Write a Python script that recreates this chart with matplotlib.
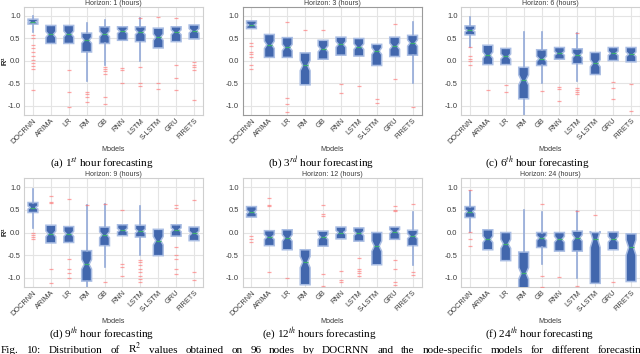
import numpy as np
import matplotlib
matplotlib.use("Agg")
import matplotlib.pyplot as plt

MODELS = ['DOCRNN', 'ARIMA', 'LR', 'RM', 'GB', 'RNN', 'LSTM', 'S-LSTM', 'GRU', 'FIRETS']
HORIZONS = [1, 3, 6, 9, 12, 24]
CAPTIONS = [r"(a) 1$^{st}$ hour forecasting", r"(b) 3$^{rd}$ hour forecasting",
            r"(c) 6$^{th}$ hour forecasting", r"(d) 9$^{th}$ hour forecasting",
            r"(e) 12$^{th}$ hours forecasting", r"(f) 24$^{th}$ hour forecasting"]
FIG_CAPTION = (r"Fig. 10: Distribution of R$^2$ values obtained on 96 nodes by DOCRNN "
               r"and the node-specific models for different forecasting")
N_NODES = 96

# ---- Horizon 1
H1_Q1 = [0.82, 0.39, 0.39, 0.20, 0.39, 0.46, 0.43, 0.29, 0.43, 0.49]
H1_MED = [0.87, 0.59, 0.60, 0.46, 0.60, 0.66, 0.64, 0.53, 0.64, 0.67]
H1_Q3 = [0.93, 0.79, 0.79, 0.62, 0.76, 0.76, 0.76, 0.73, 0.76, 0.80]
H1_LO = [0.65, None, None, -0.45, -0.10, None, 0.00, None, None, None]
H1_HI = [1.00, None, None, 0.85, 0.90, None, 0.95, None, None, None]
H1_FL = [[0.58, 0.50, 0.35, 0.28, 0.20, 0.12, 0.02, -0.05, -0.12, -0.18, -0.65],
         [], [-0.20, -0.68, -1.02], [-0.70, -0.74, -0.80, -0.92],
         [-0.14, -0.18, -0.22, -0.28, -0.80, -0.95], [-0.15, -0.20, -0.50],
         [0.95, -0.13, -0.50, -0.55], [0.97, -0.50, -0.62],
         [0.95, -0.10, -0.38, -0.65], [-0.02, -0.08, -0.14, -0.20, -0.87]]

# ---- Horizon 3
H3_Q1 = [0.72, 0.08, 0.08, -0.53, 0.04, 0.13, 0.11, -0.10, 0.10, 0.13]
H3_MED = [0.80, 0.36, 0.30, -0.10, 0.27, 0.37, 0.32, 0.22, 0.33, 0.40]
H3_Q3 = [0.89, 0.59, 0.52, 0.18, 0.46, 0.53, 0.50, 0.37, 0.53, 0.57]
H3_LO = [None, None, None, None, None, None, None, None, None, -0.48]
H3_HI = [None, None, None, None, None, None, None, None, None, 0.87]
H3_FL = [[0.40, 0.33, 0.20, 0.15, 0.08, -0.08, -0.18], [], [0.87, -0.82, -0.95, -1.13],
         [0.68], [0.69], [-0.52, -0.72], [-0.55], [-0.85, -0.93], [0.82, -0.40], [-1.03]]

# ---- Horizon 6
H6_Q1 = [0.58, -0.08, -0.08, -0.84, -0.10, 0.04, -0.06, -0.30, 0.01, -0.02]
H6_MED = [0.68, 0.13, 0.10, -0.42, 0.05, 0.17, 0.13, -0.05, 0.17, 0.15]
H6_Q3 = [0.78, 0.35, 0.28, -0.14, 0.25, 0.30, 0.27, 0.19, 0.30, 0.30]
H6_LO = [0.30, None, None, -1.25, -0.48, None, -0.45, None, None, None]
H6_HI = [0.97, None, None, 0.65, 0.65, None, 0.62, None, None, None]
H6_FL = [[0.30, 0.10, 0.05, 0.00, -0.10], [-0.65], [-0.53, -0.70], [], [-0.67],
         [-0.58, -0.62, -0.90], [0.63, -0.60, -0.64, -0.70, -0.74], [],
         [-0.47, -0.60, -0.85], [-0.52, -1.12]]

# ---- Horizon 9
H9_Q1 = [0.44, -0.23, -0.22, -1.07, -0.29, -0.07, -0.10, -0.51, -0.08, -0.18]
H9_MED = [0.55, -0.03, -0.03, -0.70, -0.05, 0.05, 0.03, -0.18, 0.06, -0.02]
H9_Q3 = [0.66, 0.16, 0.13, -0.40, 0.12, 0.17, 0.16, 0.07, 0.17, 0.12]
H9_LO = [0.10, None, None, -1.25, -0.75, None, -0.50, None, None, None]
H9_HI = [0.95, None, None, 0.60, 0.62, None, 0.58, None, None, None]
H9_FL = [[0.00, -0.05, -0.10, -0.15], [0.80, 0.68, 0.65, -0.80, -1.12],
         [0.73, -0.58, -0.80, -0.90, -1.00], [0.60], [0.62, -1.08],
         [0.50, -0.70, -0.75, -0.95],
         [-0.60, -0.65, -0.72, -0.80, -0.88, -0.95, -1.02, -1.10], [],
         [0.60, 0.53, -0.32, -0.50, -0.58, -0.80, -0.92], [0.72, -0.88, -1.05]]

# ---- Horizon 12
H12_Q1 = [0.34, -0.29, -0.38, -1.15, -0.30, -0.14, -0.19, -0.71, -0.15, -0.29]
H12_MED = [0.45, -0.10, -0.12, -0.65, -0.10, 0.00, -0.02, -0.30, 0.02, -0.08]
H12_Q3 = [0.57, 0.04, 0.06, -0.38, 0.03, 0.12, 0.10, 0.00, 0.12, 0.05]
H12_LO = [None, None, None, None, None, None, None, None, None, -0.72]
H12_HI = [None, None, None, None, None, None, None, None, None, 0.45]
H12_FL = [[-0.08, -0.15, -0.20], [0.75, 0.60, 0.58, -0.88], [-1.00], [],
          [0.60, 0.40, 0.37, -0.92, -1.18], [-0.85, -1.05, -1.10],
          [-0.57, -0.80, -0.85, -0.90, -0.95], [],
          [0.58, 0.50, 0.48, -0.60, -0.80, -1.10, -1.15], [0.63, -0.87, -0.93]]

# ---- Horizon 24
H24_Q1 = [0.33, -0.38, -0.62, -1.22, -0.33, -0.41, -0.41, -1.12, -0.38, -1.08]
H24_MED = [0.46, -0.15, -0.25, -0.90, -0.12, -0.15, -0.12, -0.15, -0.15, -0.33]
H24_Q3 = [0.57, 0.06, 0.00, -0.43, 0.00, 0.00, 0.03, 0.00, 0.01, -0.03]
H24_LO = [0.02, None, None, -1.25, -0.70, None, -1.00, None, None, None]
H24_HI = [0.92, None, None, 0.50, 0.45, None, 0.47, None, None, None]
H24_FL = [[0.93, 0.02, -0.15, -0.30], [], [], [], [0.62, -0.95, -1.20], [-0.98],
          [0.47, -1.17], [0.38], [-1.10], []]

PANELS = [
    (H1_Q1, H1_MED, H1_Q3, H1_LO, H1_HI, H1_FL),
    (H3_Q1, H3_MED, H3_Q3, H3_LO, H3_HI, H3_FL),
    (H6_Q1, H6_MED, H6_Q3, H6_LO, H6_HI, H6_FL),
    (H9_Q1, H9_MED, H9_Q3, H9_LO, H9_HI, H9_FL),
    (H12_Q1, H12_MED, H12_Q3, H12_LO, H12_HI, H12_FL),
    (H24_Q1, H24_MED, H24_Q3, H24_LO, H24_HI, H24_FL),
]

plt.rcParams['font.family'] = ['Liberation Sans', 'DejaVu Sans']
plt.rcParams['mathtext.fontset'] = 'stix'
plt.rcParams['axes.unicode_minus'] = False

W, H = 640, 354
fig = plt.figure(figsize=(6.4, 3.54), dpi=100)
fig.patch.set_facecolor('white')

lefts = [24, 242.5, 461]
rows = [(7, 115), (178, 287)]
cap_x = [[102, 321, 537], [102, 319, 539]]
cap_y = [163, 334]

BOX_FACE = '#4267ad'
BOX_EDGE = '#a9bde3'
WHISK = '#93aad8'
TXT = '#3a3a3a'

for i, (q1s, meds, q3s, los, his, fls) in enumerate(PANELS):
    r, c = divmod(i, 3)
    top, bot = rows[r]
    ax = fig.add_axes([lefts[c] / W, (H - bot) / H, 179 / W, (bot - top) / H])
    ax.set_facecolor('white')
    stats = []
    for j, name in enumerate(MODELS):
        q1, med, q3 = q1s[j], meds[j], q3s[j]
        ci = 1.57 * (q3 - q1) / np.sqrt(N_NODES)
        stats.append(dict(label=name, q1=q1, med=med, q3=q3,
                          whislo=q1 if los[j] is None else los[j],
                          whishi=q3 if his[j] is None else his[j],
                          cilo=med - ci, cihi=med + ci, fliers=fls[j]))
    ax.bxp(stats, positions=np.arange(1, len(MODELS) + 1), widths=0.55,
           shownotches=True, patch_artist=True, showcaps=False, zorder=3,
           boxprops=dict(facecolor=BOX_FACE, edgecolor=BOX_EDGE, linewidth=1.1),
           whiskerprops=dict(color=WHISK, linewidth=1.2),
           medianprops=dict(color='#3dae6e', linewidth=0.9),
           flierprops=dict(marker='_', markersize=2.3, markeredgewidth=0.9,
                           markeredgecolor='#ff6b6b', alpha=0.6, linestyle='none'))
    ax.set_xlim(0.5, 10.5)
    ax.set_ylim(-1.2, 1.2)
    ax.set_yticks([-1.0, -0.5, 0.0, 0.5, 1.0])
    ax.set_yticklabels(['-1.0', '-0.5', '0.0', '0.5', '1.0'])
    ax.set_xticks(np.arange(1, len(MODELS) + 1))
    ax.set_xticklabels(MODELS, rotation=45, ha='right', rotation_mode='anchor')
    ax.grid(True, color='#e4e4e4', linewidth=0.8, zorder=0)
    ax.set_axisbelow(True)
    ax.tick_params(axis='y', length=0, labelsize=5.4, labelcolor=TXT, pad=2.5)
    ax.tick_params(axis='x', length=0, labelsize=5.3, labelcolor=TXT, pad=1.5)
    for s in ax.spines.values():
        s.set_color('#cfcfcf' if i != 1 else '#9a9a9a')
        s.set_linewidth(0.8)
    ax.set_title(f"Horizon: {HORIZONS[i]} (hours)", fontsize=5, color=TXT, pad=1.5)
    ax.set_xlabel('Models', fontsize=5.2, color=TXT, labelpad=1)
    ax.set_ylabel(r'R$^2$', fontsize=5.2, color=TXT)
    ax.yaxis.set_label_coords((10 - lefts[c]) / 179, 0.5)
    fig.text(cap_x[r][c] / W, (H - cap_y[r]) / H, CAPTIONS[i], ha='center', va='center',
             fontsize=8, family='Liberation Serif')

# justified figure caption line (cut by the bottom edge, as in the reference)
renderer = fig.canvas.get_renderer()
words = FIG_CAPTION.split(' ')
objs = []
widths = []
for w in words:
    t = fig.text(0, (H - 353) / H, w, ha='left', va='baseline', fontsize=8,
                 family='Liberation Serif')
    objs.append(t)
    widths.append(t.get_window_extent(renderer).width)
x0, x1 = 1.0, 647.0
gap = (x1 - x0 - sum(widths)) / (len(words) - 1)
x = x0
for t, wd in zip(objs, widths):
    t.set_x(x / W)
    x += wd + gap

fig.savefig('out.png', dpi=100, facecolor='white')
